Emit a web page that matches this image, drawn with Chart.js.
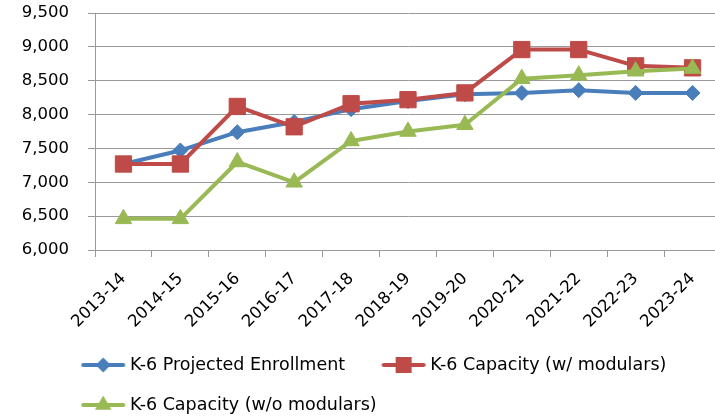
<!DOCTYPE html>
<html><head><meta charset="utf-8">
<script src="https://cdn.jsdelivr.net/npm/chart.js@4.4.1/dist/chart.umd.min.js"></script>
<style>html,body{margin:0;padding:0;background:#fff;overflow:hidden;width:715px;height:417px}canvas{display:block}</style>
</head><body>
<canvas id="c" width="721" height="417"></canvas>
<script>
const categories = ['2013-14','2014-15','2015-16','2016-17','2017-18','2018-19','2019-20','2020-21','2021-22','2022-23','2023-24'];
const enrollment = [7270, 7470, 7740, 7890, 8080, 8200, 8300, 8320, 8360, 8320, 8320];
const capacityWithModulars = [7270, 7270, 8120, 7820, 8160, 8220, 8320, 8960, 8960, 8720, 8690];
const capacityWithoutModulars = [6460, 6460, 7300, 7000, 7610, 7750, 7850, 8530, 8580, 8640, 8680];
const seriesNames = ['K-6 Projected Enrollment', 'K-6 Capacity (w/ modulars)', 'K-6 Capacity (w/o modulars)'];
const yMin = 6000, yMax = 9500, yStep = 500;

const FONT = "'DejaVu Sans', sans-serif";
const FS = 16.5;
const LFS = 17.5;
const BLUE = '#4A7EBB', RED = '#BE4B48', GREEN = '#98B954';
const GRID = '#999999';

// legend icon: line + marker, drawn into the right part of a wider transparent canvas
function legendIcon(color, style, r) {
  const c = document.createElement('canvas');
  c.width = 64; c.height = 22;
  const g = c.getContext('2d');
  const x0 = 19, x1 = 63, x = (x0 + x1) / 2, y = 11;
  g.strokeStyle = color; g.lineWidth = 4; g.lineCap = 'round';
  g.beginPath(); g.moveTo(x0 + 2, y); g.lineTo(x1 - 2, y); g.stroke();
  g.fillStyle = color;
  g.beginPath();
  if (style === 'rectRot') { g.moveTo(x - r, y); g.lineTo(x, y - r); g.lineTo(x + r, y); g.lineTo(x, y + r); }
  else if (style === 'rect') { g.rect(x - r, y - r, 2 * r, 2 * r); }
  else { const h = r * Math.sqrt(3) / 2; g.moveTo(x, y - r); g.lineTo(x + h, y + r / 2); g.lineTo(x - h, y + r / 2); }
  g.closePath(); g.fill();
  return c;
}
const icons = [legendIcon(BLUE, 'rectRot', 7.5), legendIcon(RED, 'rect', 8), legendIcon(GREEN, 'tri', 9.5)];

const legendPlace = {
  id: 'legendPlace',
  afterLayout(chart) {
    const L = chart.legend;
    L.left = 44.75; L.top = 333.75; L.bottom = 417; L.right = 715;
  }
};

new Chart(document.getElementById('c'), {
  type: 'line',
  data: {
    labels: categories,
    datasets: [
      { label: seriesNames[0], data: enrollment, borderColor: BLUE, backgroundColor: BLUE, pointBackgroundColor: BLUE, pointBorderColor: BLUE,
        borderWidth: 4, pointStyle: 'rectRot', pointRadius: 7.5, pointBorderWidth: 1, order: 3, borderJoinStyle: 'round' },
      { label: seriesNames[1], data: capacityWithModulars, borderColor: RED, backgroundColor: RED, pointBackgroundColor: RED, pointBorderColor: RED,
        borderWidth: 4, pointStyle: 'rect', pointRadius: 11.5, pointBorderWidth: 1, order: 2, borderJoinStyle: 'round' },
      { label: seriesNames[2], data: capacityWithoutModulars, borderColor: GREEN, backgroundColor: GREEN, pointBackgroundColor: GREEN, pointBorderColor: GREEN,
        borderWidth: 4, pointStyle: 'triangle', pointRadius: 9.5, pointBorderWidth: 1, order: 1, borderJoinStyle: 'round' }
    ]
  },
  options: {
    responsive: false,
    animation: false,
    devicePixelRatio: 1,
    layout: { autoPadding: false, padding: { top: 13, right: 0, left: 0, bottom: 27 } },
    plugins: {
      tooltip: { enabled: false },
      legend: {
        position: 'bottom',
        align: 'start',
        maxHeight: 60,
        labels: {
          font: { family: FONT, size: LFS },
          color: '#000',
          usePointStyle: true,
          pointStyleWidth: 54,
          padding: 22.5,
          generateLabels: (chart) => chart.data.datasets.map((ds, i) => ({
            text: ds.label, pointStyle: icons[i], fillStyle: ds.borderColor, strokeStyle: ds.borderColor,
            lineWidth: 0, hidden: false, datasetIndex: i, fontColor: '#000'
          }))
        }
      }
    },
    scales: {
      x: {
        offset: true,
        afterFit: (s) => { s.height = 80; s.paddingLeft = 0; s.paddingRight = 0; },
        grid: { display: true, drawOnChartArea: false, drawTicks: true, tickLength: 7, offset: true, color: GRID },
        border: { display: true, color: GRID },
        ticks: { minRotation: 45, maxRotation: 45, autoSkip: false, padding: 12, color: '#000', font: { family: FONT, size: FS } }
      },
      y: {
        min: yMin, max: yMax,
        afterFit: (s) => { s.width = 95; s.paddingTop = 0; s.paddingBottom = 0; },
        grid: { color: GRID, tickLength: 7, drawTicks: true },
        border: { display: true, color: GRID },
        ticks: { stepSize: yStep, padding: 19, color: '#000', font: { family: FONT, size: FS },
          callback: (v) => v.toLocaleString('en-US') }
      }
    }
  },
  plugins: [legendPlace]
});
</script>
</body></html>
